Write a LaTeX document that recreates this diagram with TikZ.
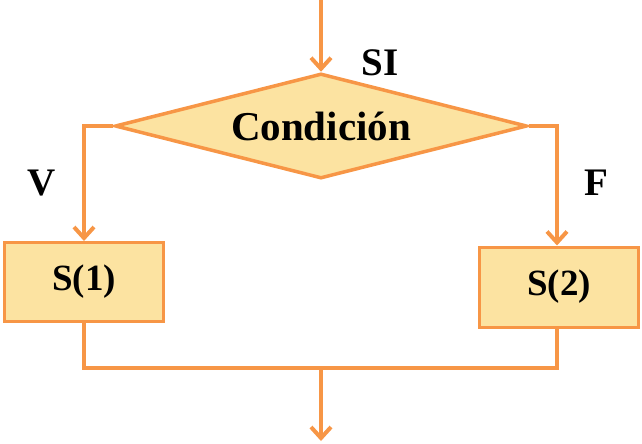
\documentclass[tikz,border=0pt]{standalone}
\usepackage{fontspec}
\setmainfont{Liberation Serif}
\usetikzlibrary{shapes.geometric,arrows.meta}
\definecolor{edgeor}{HTML}{F79646}
\definecolor{fillyl}{HTML}{FCE3A1}
\tikzset{
  x=1pt,y=1pt,
  flow/.style={draw=edgeor,line width=4pt},
  arr/.style={flow,-{Straight Barb[length=11pt,width=20pt,line width=4pt]}},
  decision/.style={diamond,shape aspect=3.92,draw=edgeor,fill=fillyl,line width=3.5pt,inner sep=0pt,minimum width=412pt,minimum height=105pt,font=\fontsize{41}{44}\selectfont\bfseries},
  procbox/.style={rectangle,draw=edgeor,fill=fillyl,line width=3pt,inner sep=0pt,minimum width=159pt,minimum height=79pt,font=\fontsize{37}{40}\selectfont\bfseries},
  lbl/.style={font=\fontsize{39}{40}\selectfont\bfseries,inner sep=0pt}
}
\begin{document}
\begin{tikzpicture}
\useasboundingbox (0,0) rectangle (642,-444);
\coordinate (start) at (321,0);
\node[decision] (cond) at (321,-126) {Condición};
\node[procbox] (s1) at (84,-282) {S(1)};
\node[procbox,minimum height=80pt] (s2) at (559,-287) {S(2)};
\coordinate (lc) at (84,-126);
\coordinate (rc) at (557,-126);
\coordinate (jl) at (84,-368);
\coordinate (jr) at (557,-368);
\coordinate (jm) at (321,-368);
\coordinate (end) at (321,-441);
\draw[arr] (start) -- (cond.north);
\draw[arr] (cond.west) -- (lc) -- (s1.north);
\draw[arr] (cond.east) -- (rc) -- (rc |- s2.north);
\draw[flow] (s1.south) -- (jl) -- (jr) -- (jr |- s2.south);
\draw[arr] (jm) -- (end);
\node[lbl] (si) at (380,-63) {SI};
\node[lbl] (v) at (42,-183) {V};
\node[lbl] (f) at (596,-183) {F};
\end{tikzpicture}
\end{document}
